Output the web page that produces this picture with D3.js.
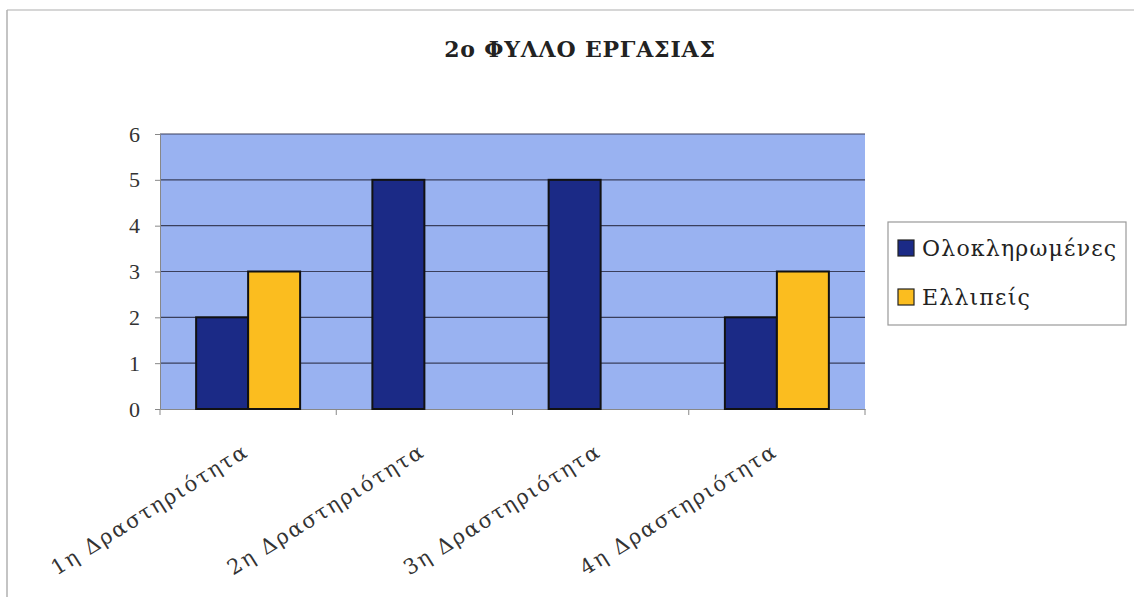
<!DOCTYPE html>
<html>
<head>
<meta charset="utf-8">
<script src="https://cdnjs.cloudflare.com/ajax/libs/d3/7.8.5/d3.min.js"></script>
<style>
  body { margin: 0; background: #fff; }
  svg { display: block; }
  svg text { font-family: "Liberation Serif", "Times New Roman", serif; }
  svg text.gr { font-family: "DejaVu Serif", serif; }
</style>
</head>
<body>
<div id="chart"></div>
<script>
// Chart data
var categories = ["1η Δραστηριότητα", "2η Δραστηριότητα", "3η Δραστηριότητα", "4η Δραστηριότητα"];
var seriesNames = ["Ολοκληρωμένες", "Ελλιπείς"];
var completed = [2, 5, 5, 2];
var incomplete = [3, 0, 0, 3];
var yTicks = [0, 1, 2, 3, 4, 5, 6];

var colors = ["#1b2a86", "#fbbd1f"];

var w = 1134, h = 597;
var plotLeft = 160, plotRight = 865, plotTop = 134, plotBottom = 409;

var svg = d3.select("#chart").append("svg")
  .attr("width", w)
  .attr("height", h);

// page border (top and left only visible)
svg.append("line").attr("x1", 7).attr("x2", w).attr("y1", 10).attr("y2", 10)
  .attr("stroke", "#c8c8c8").attr("stroke-width", 1.5);
svg.append("line").attr("x1", 7).attr("x2", 7).attr("y1", 10).attr("y2", h)
  .attr("stroke", "#b0b0b0").attr("stroke-width", 1.5);

// title
svg.append("text")
  .attr("class", "gr")
  .attr("x", 580)
  .attr("y", 57)
  .attr("text-anchor", "middle")
  .attr("font-weight", "bold")
  .attr("font-size", 22)
  .attr("letter-spacing", 0.8)
  .attr("fill", "#222")
  .text("2o ΦΥΛΛΟ ΕΡΓΑΣΙΑΣ");

var xScale = d3.scaleBand()
  .domain(categories)
  .range([plotLeft, plotRight])
  .paddingInner(0)
  .paddingOuter(0);

var groupPad = 0.205; // fraction of category left empty on each side
var xSub = d3.scaleBand()
  .domain([0, 1])
  .range([xScale.bandwidth() * groupPad, xScale.bandwidth() * (1 - groupPad)]);

var yScale = d3.scaleLinear()
  .domain([0, 6])
  .range([plotBottom, plotTop]);

// plot background
svg.append("rect")
  .attr("x", plotLeft)
  .attr("y", plotTop)
  .attr("width", plotRight - plotLeft)
  .attr("height", plotBottom - plotTop)
  .attr("fill", "#99b2f1");

// gridlines
svg.append("g")
  .selectAll("line")
  .data(yTicks.filter(function(d) { return d > 0; }))
  .join("line")
  .attr("x1", plotLeft)
  .attr("x2", plotRight)
  .attr("y1", function(d) { return yScale(d); })
  .attr("y2", function(d) { return yScale(d); })
  .attr("stroke", "#3a3f5c")
  .attr("stroke-width", 1.2);

// y axis
var yAxis = d3.axisLeft(yScale)
  .tickValues(yTicks)
  .tickSize(5)
  .tickPadding(15)
  .tickFormat(d3.format("d"));

var yg = svg.append("g")
  .attr("transform", "translate(" + plotLeft + ",0)")
  .call(yAxis);
yg.select(".domain").attr("stroke", "#888");
yg.selectAll(".tick line").attr("stroke", "#888");
yg.selectAll("text")
  .attr("font-family", null)
  .attr("font-size", 22)
  .attr("fill", "#333");

// x axis
var xAxis = d3.axisBottom(xScale)
  .tickSize(0)
  .tickFormat("");
var xg = svg.append("g")
  .attr("transform", "translate(0," + plotBottom + ")")
  .call(xAxis);
xg.select(".domain").attr("stroke", "#888");

// category boundary ticks
svg.append("g")
  .selectAll("line")
  .data(categories.concat(["end"]))
  .join("line")
  .attr("x1", function(d, i) { return plotLeft + i * xScale.bandwidth(); })
  .attr("x2", function(d, i) { return plotLeft + i * xScale.bandwidth(); })
  .attr("y1", plotBottom)
  .attr("y2", plotBottom + 6)
  .attr("stroke", "#888");

// bars
var rows = categories.map(function(c, i) {
  return { cat: c, values: [completed[i], incomplete[i]] };
});

var groups = svg.append("g")
  .selectAll("g")
  .data(rows)
  .join("g")
  .attr("transform", function(d) { return "translate(" + xScale(d.cat) + ",0)"; });

groups.selectAll("rect")
  .data(function(d) {
    return d.values.map(function(v, j) { return { j: j, v: v }; }).filter(function(e) { return e.v > 0; });
  })
  .join("rect")
  .attr("x", function(d) { return xSub(d.j); })
  .attr("y", function(d) { return yScale(d.v); })
  .attr("width", xSub.bandwidth())
  .attr("height", function(d) { return yScale(0) - yScale(d.v); })
  .attr("fill", function(d) { return colors[d.j]; })
  .attr("stroke", "#111")
  .attr("stroke-width", 2);

// rotated category labels
svg.append("g")
  .selectAll("text")
  .data(categories)
  .join("text")
  .attr("class", "gr")
  .attr("transform", function(d) {
    var cx = xScale(d) + xScale.bandwidth() / 2;
    return "translate(" + (cx + 2) + "," + (plotBottom + 46) + ") rotate(-32)";
  })
  .attr("text-anchor", "end")
  .attr("font-size", 21)
  .attr("letter-spacing", 2)
  .attr("fill", "#333")
  .text(function(d) { return d; });

// legend
var lg = svg.append("g").attr("transform", "translate(888,222)");
lg.append("rect")
  .attr("width", 238)
  .attr("height", 103)
  .attr("fill", "#fff")
  .attr("stroke", "#999")
  .attr("stroke-width", 1.2);

var items = lg.selectAll("g.item")
  .data(seriesNames)
  .join("g")
  .attr("class", "item")
  .attr("transform", function(d, i) { return "translate(10," + (26 + i * 49) + ")"; });

items.append("rect")
  .attr("width", 16)
  .attr("height", 16)
  .attr("y", -8)
  .attr("fill", function(d, i) { return colors[i]; })
  .attr("stroke", "#222")
  .attr("stroke-width", 1.2);

items.append("text")
  .attr("class", "gr")
  .attr("x", 24)
  .attr("y", 8)
  .attr("font-size", 22)
  .attr("letter-spacing", 1.2)
  .attr("fill", "#222")
  .text(function(d) { return d; });
</script>
</body>
</html>
